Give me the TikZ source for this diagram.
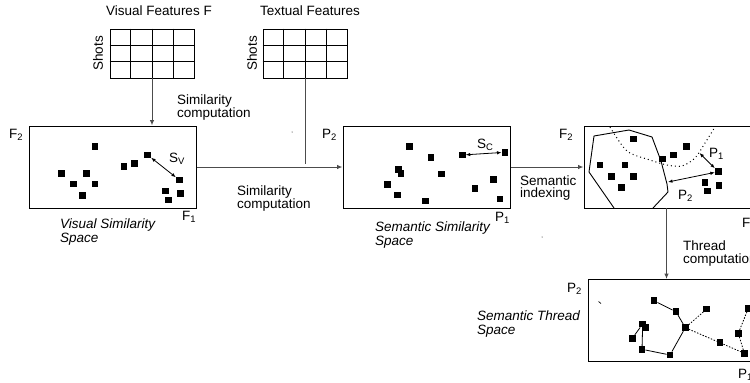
\documentclass[tikz,border=0pt]{standalone}
\usepackage{fontspec}
\setmainfont{Liberation Sans}
\usetikzlibrary{arrows.meta,calc}

\begin{document}
\begin{tikzpicture}[x=1pt,y=-1pt,
  lbl/.style={font=\fontsize{13.5}{14}\selectfont, inner sep=0pt},
  ilbl/.style={lbl, font=\fontsize{13.5}{14}\selectfont\itshape},
  spacebox/.style={draw, line width=1pt, inner sep=0pt, minimum width=167pt, minimum height=82pt},
  gridbox/.style={draw, line width=0.9pt, inner sep=0pt, minimum width=84pt, minimum height=49pt},
  dotsq/.style={rectangle, fill=black, inner sep=0pt, minimum size=6.5pt},
  conn/.style={draw=black!70, line width=1pt},
  arr/.style={conn, -{Latex[length=5.5pt,width=4.5pt]}},
  dbl/.style={draw=black, line width=0.8pt, {Latex[length=4.5pt,width=3.5pt]}-{Latex[length=4.5pt,width=3.5pt]}},
  solidlink/.style={draw=black, line width=0.8pt},
  dotlink/.style={draw=black, line width=0.8pt, dash pattern=on 1.5pt off 1.5pt},
  boundary/.style={draw=black, line width=1pt, dash pattern=on 1pt off 3pt}
]
\useasboundingbox (0,0) rectangle (750,383);

% ---------- feature matrices ----------
\node[gridbox] (g1) at (152,53.5) {};
\node[gridbox] (g2) at (305,53.5) {};
\foreach \g in {g1,g2}{
  \foreach \f in {0.25,0.5,0.75}
    \draw[line width=0.9pt] ($(\g.north west)!\f!(\g.north east)$) -- ($(\g.south west)!\f!(\g.south east)$);
  \foreach \f in {0.3333,0.6667}
    \draw[line width=0.9pt] ($(\g.north west)!\f!(\g.south west)$) -- ($(\g.north east)!\f!(\g.south east)$);
}
\node[lbl] (t1) at (159,10.5) {Visual Features F};
\node[lbl] (t2) at (310,10.5) {Textual Features};
\node[lbl, rotate=90] (s1) at (98,53.5) {Shots};
\node[lbl, rotate=90] (s2) at (252,53.5) {Shots};

% ---------- the four spaces ----------
\node[spacebox] (b1) at (112.5,167) {};
\node[spacebox] (b2) at (426.5,167) {};
\node[spacebox] (b3) at (667.5,167) {};
\node[spacebox] (b4) at (671.5,320.5) {};

% ---------- connectors ----------
\draw[arr] (g1.south) -- (g1.south |- b1.north);
\coordinate (join) at ($(g2.south |- b1.east)+(0,-3)$);
\draw[conn] (g2.south) -- (join);
\draw[arr] (b1.east) -- (b2.west);
\draw[arr] (b2.east) -- (b3.west);
\coordinate (down) at (666.5,208);
\draw[arr] (down) -- (down |- b4.north);

% connector captions
\node[lbl, anchor=base west] (sim1a) at (177,104) {Similarity};
\node[lbl, anchor=base west] (sim1b) at (177,117.5) {computation};
\node[lbl, anchor=base west] (sim2a) at (237,195) {Similarity};
\node[lbl, anchor=base west] (sim2b) at (237,208.5) {computation};
\node[lbl, anchor=base west] (idxa) at (520,185) {Semantic};
\node[lbl, anchor=base west] (idxb) at (520,197.5) {indexing};
\node[lbl, anchor=base west] (thra) at (683,250) {Thread};
\node[lbl, anchor=base west] (thrb) at (683,263) {computation};

% space captions
\node[ilbl, anchor=base west] (vsa) at (60,228) {Visual Similarity};
\node[ilbl, anchor=base west] (vsb) at (60,242) {Space};
\node[ilbl, anchor=base west] (ssa) at (375,231.5) {Semantic Similarity};
\node[ilbl, anchor=base west] (ssb) at (375,245) {Space};
\node[ilbl, anchor=base west] (sta) at (477,320) {Semantic Thread};
\node[ilbl, anchor=base west] (stb) at (477,334) {Space};

% axis labels
\node[lbl, anchor=base west] (ax1) at (9,138) {F\textsubscript{2}};
\node[lbl, anchor=base west] (ax2) at (182,220) {F\textsubscript{1}};
\node[lbl, anchor=base west] (ax3) at (322,138) {P\textsubscript{2}};
\node[lbl, anchor=base west] (ax4) at (495,221.5) {P\textsubscript{1}};
\node[lbl, anchor=base west] (ax5) at (559,138) {F\textsubscript{2}};
\node[lbl, anchor=base west] (ax6) at (742,227) {F\textsubscript{1}};
\node[lbl, anchor=base west] (ax7) at (567,292) {P\textsubscript{2}};
\node[lbl, anchor=base west] (ax8) at (738,378) {P\textsubscript{1}};

% ---------- visual similarity space ----------
\foreach \n/\p in {v1/{95,146.7}, v2/{61.7,173.3}, v3/{86.7,173.3}, v4/{73.3,184},
                   v5/{95,184}, v6/{82.7,195.7}, v7/{124,166.7}, v8/{134.3,163.3},
                   v9/{147.7,155}, v10/{179.3,180}, v11/{165.7,191}, v12/{168.3,200},
                   v13/{180.7,193.3}}
  \node[dotsq] (\n) at (\p) {};
\draw[dbl] (v9) -- (v10);
\node[lbl, anchor=base west] (sv) at (169,162) {S\textsubscript{V}};

% ---------- semantic similarity space ----------
\foreach \n/\p in {c1/{409.3,146.7}, c2/{431,157.7}, c3/{462.3,155}, c4/{505,152.3},
                   c5/{398.3,169.3}, c6/{401,173.3}, c7/{441.3,174}, c8/{387.7,184.3},
                   c9/{493.7,179.3}, c10/{475,188.3}, c11/{397.7,195}, c12/{425.7,201},
                   c13/{500,199}}
  \node[dotsq] (\n) at (\p) {};
\draw[dbl] (c3) -- (c4);
\node[lbl, anchor=base west] (scl) at (477,148) {S\textsubscript{C}};

% ---------- semantic index space ----------
\draw[line width=0.9pt] (614,208) -- (589,172) -- (594,136) -- (629,130) -- (652,137)
  -- (661,161) -- (667,184) -- (668,192) -- (653,208);
\draw[boundary] plot[smooth] coordinates {(610,127) (627,151) (650,160) (667,165)
  (682,166) (695,158) (705,143) (715,127)};
\foreach \n/\p in {k1/{633.3,139}, k2/{600,165}, k3/{625,165}, k4/{611.7,176.7},
                   k5/{633.3,176.7}, k6/{621.7,187.7}, k7/{662.7,159}, k8/{673.3,155},
                   k9/{686.7,146.7}, k10/{718.3,171.7}, k11/{705,182.7}, k12/{719,185.7},
                   k13/{707.3,191}}
  \node[dotsq] (\n) at (\p) {};
\coordinate (onbound) at (699.5,153);
\coordinate (onpoly) at (668,182);
\draw[dbl] (onbound) -- (k10);
\draw[dbl] (onpoly) -- (k10);
\node[lbl, anchor=base west] (p1l) at (709,157) {P\textsubscript{1}};
\node[lbl, anchor=base west] (p2l) at (678,199) {P\textsubscript{2}};

% ---------- semantic thread space ----------
\foreach \n/\p in {a/{654,300.7}, b/{676,311.7}, c/{706.7,309}, d/{685.3,327.7},
                   e/{642.7,324}, e2/{645.3,327.3}, f/{632.3,338.3}, g/{642,349.3},
                   h/{670,355}, i/{720,342.7}, j/{744.3,353.3}, k/{738.3,333.3},
                   l/{748.3,308.3}}
  \node[dotsq] (\n) at (\p) {};
\draw[solidlink] (a) -- (b) -- (d) -- (h) -- (g) -- (e) -- (f);
\draw[dotlink] (d) -- (c);
\draw[dotlink] (d) -- (i) -- (j) -- (k) -- (l);

% small stray marks
\fill (292,132) circle (0.5pt);
\fill (542,237) circle (0.5pt);
\draw[line width=0.7pt] (598.5,301.5) -- (601,303.5);
\end{tikzpicture}
\end{document}
